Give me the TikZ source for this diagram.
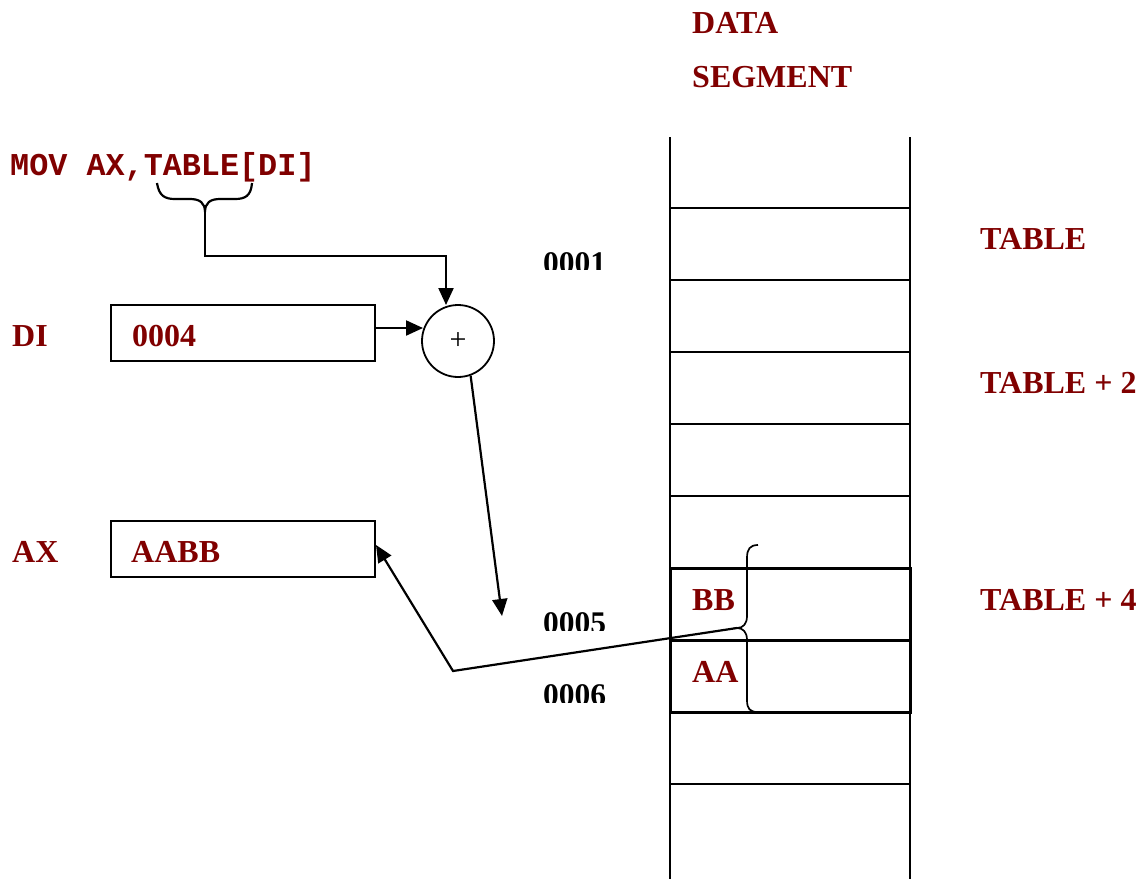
\documentclass[tikz,border=0pt]{standalone}
\usepackage{fontspec}
\setmainfont{Liberation Serif}
\setmonofont{Liberation Mono}
\usetikzlibrary{arrows.meta}
\definecolor{maroon}{RGB}{128,0,0}
\begin{document}
\begin{tikzpicture}[x=1pt,y=-1pt,
  lbl/.style={text=maroon,font=\fontsize{32}{36}\selectfont\bfseries,inner sep=0pt,anchor=base west},
  code/.style={text=maroon,font=\fontsize{31.8}{36}\selectfont\ttfamily\bfseries,inner sep=0pt,anchor=base west},
  addr/.style={text=black,font=\fontsize{31.5}{36}\selectfont\bfseries,inner sep=0pt,anchor=base west},
  reg/.style={draw,line width=2pt,minimum width=264pt,minimum height=56pt,anchor=north west,inner sep=0pt},
  thin/.style={line width=1.7pt},
  thick/.style={line width=3pt},
  conn/.style={line width=2.2pt,-{Triangle[length=17pt,width=15pt]}},
  plain/.style={line width=2.2pt}]
\useasboundingbox (0,0) rectangle (1146,879);
% titles
\node[lbl] (data) at (692,33) {DATA};
\node[lbl] (seg) at (692,87) {SEGMENT};
\node[code] (code) at (10,175) {MOV AX,TABLE[DI]};
% memory table
\draw[thin] (670,137) -- (670,879) (910,137) -- (910,879);
\foreach \y in {208,280,352,424,496,784} \draw[thin] (670,\y) -- (910,\y);
\draw[thick] (670,568) rectangle (910,712);
\draw[thick] (670,640) -- (910,640);
\node[lbl] (bb) at (692,610) {BB};
\node[lbl] (aa) at (692,682) {AA};
% table labels
\node[lbl] (t0) at (980,249) {TABLE};
\node[lbl] (t2) at (980,393) {TABLE + 2};
\node[lbl] (t4) at (980,610) {TABLE + 4};
% addresses (clipped)
\begin{scope}\clip (530,240) rectangle (620,269);
\node[addr] (a1) at (543,273) {0001};\end{scope}
\begin{scope}\clip (530,600) rectangle (620,630);
\node[addr] (a5) at (543,633) {0005};\end{scope}
\begin{scope}\clip (530,672) rectangle (620,702);
\node[addr] (a6) at (543,705) {0006};\end{scope}
% registers
\node[lbl] (dil) at (12,346) {DI};
\node[reg] (di) at (110,304) {};
\node[lbl] (div) at (132,346) {0004};
\node[lbl] (axl) at (12,562) {AX};
\node[reg] (ax) at (110,520) {};
\node[lbl] (axv) at (131,562) {AABB};
% adder
\node[draw,circle,line width=1.8pt,minimum size=72pt,inner sep=0pt,font=\fontsize{30}{32}\selectfont] (add) at (458,341) {+};
% brace under TABLE[DI]
\coordinate (btip) at (205,212);
\draw[plain] (157,183) .. controls (159,196) and (165,199) .. (175,199) -- (190,199) .. controls (200,199) and (205,203) .. (btip) .. controls (205,203) and (210,199) .. (220,199) -- (235,199) .. controls (245,199) and (251,196) .. (252,183);
\coordinate (bend) at (205,256);
\draw[plain] (btip) -- (bend) -- (446,256) -- (446,275);
\draw[conn] (446,270) -- (446,305);
\draw[conn] (di.east |- 0,328) -- (423,328);
% to address 0005
\coordinate (tgt) at (502,616);
\draw[conn] (add.-70) -- (tgt);
% brace at BB/AA
\coordinate (mtip) at (737,628);
\draw[thin] (758,545) .. controls (750,545) and (747,549) .. (747,558) -- (747,616) .. controls (747,624) and (743,628) .. (mtip) .. controls (743,628) and (747,632) .. (747,640) -- (747,700) .. controls (747,709) and (750,712) .. (758,712);
% back to AX
\coordinate (corner) at (453,671);
\draw[conn] (mtip) -- (corner) -- (ax.east |- 0,545);
\end{tikzpicture}
\end{document}
